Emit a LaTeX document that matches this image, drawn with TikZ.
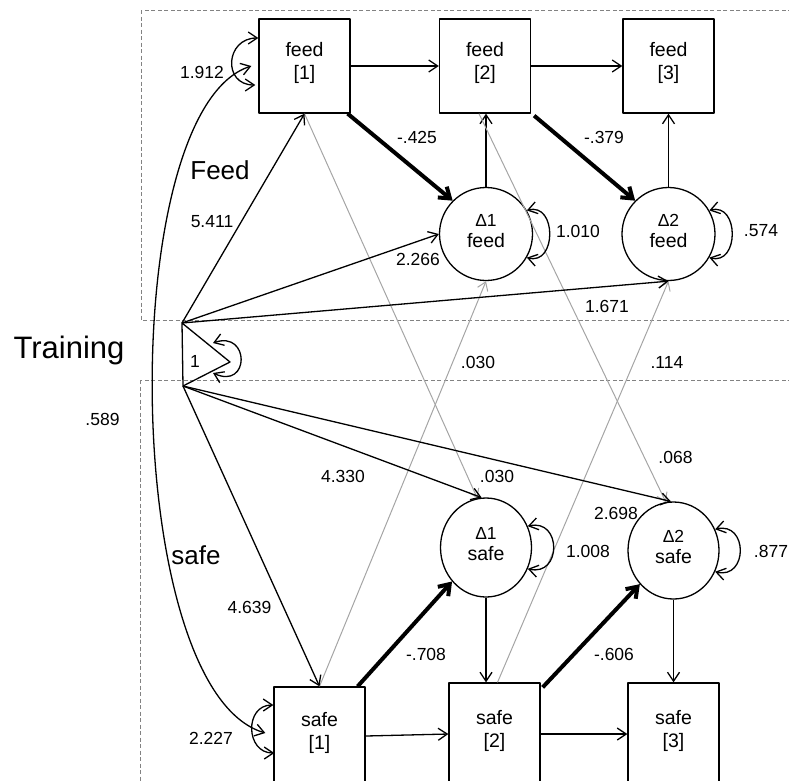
\documentclass[tikz,border=0pt]{standalone}
\usepackage{fontspec}
\setmainfont{Liberation Sans}
\usetikzlibrary{arrows.meta,shapes.geometric,calc}
\definecolor{grayline}{RGB}{165,165,165}
\definecolor{dashgray}{RGB}{130,130,130}
\begin{document}
\begin{tikzpicture}[x=1pt,y=-1pt,line width=1.3pt,line join=round,
  box/.style={draw,minimum width=91pt,minimum height=94pt,inner sep=0pt,align=center,text depth=11pt,font=\fontsize{19.5}{23}\selectfont},
  latf/.style={draw,circle,minimum size=93pt,inner sep=0pt,align=center,text depth=6pt,font=\fontsize{19.5}{21}\selectfont},
  lats/.style={draw,ellipse,minimum width=91pt,inner sep=0pt,align=center,text depth=8pt,font=\fontsize{19.5}{21}\selectfont},
  lab/.style={inner sep=0pt,font=\fontsize{17.5}{20}\selectfont},
  biglab/.style={inner sep=0pt,font=\fontsize{26}{30}\selectfont},
  reg/.style={-{Straight Barb[length=9pt,width=12pt]}},
  thk/.style={line width=4pt,-{Straight Barb[length=10pt,width=14pt]}},
  cross/.style={draw=grayline,line width=1pt,-{Straight Barb[length=8pt,width=11pt]}},
  dbl/.style={{Straight Barb[length=9pt,width=12pt]}-{Straight Barb[length=9pt,width=12pt]}},
  region/.style={draw=dashgray,line width=1pt,dash pattern=on 4pt off 2.5pt}
]
\useasboundingbox (0,0) rectangle (789,780);
\clip (0,0) rectangle (789,780);

% regions
\draw[region] (141,10) rectangle (800,320);
\draw[region] (140,380) rectangle (800,800);

% observed boxes
\node[box] (f1) at (304.5,66) {feed\\{[1]}};
\node[box] (f2) at (485,66) {feed\\{[2]}};
\node[box] (f3) at (668.5,66) {feed\\{[3]}};
\node[box,minimum height=98pt] (s1) at (319.5,736) {safe\\{[1]}};
\node[box,minimum height=102pt] (s2) at (494.5,734) {safe\\{[2]}};
\node[box,minimum height=102pt] (s3) at (673.5,734) {safe\\{[3]}};

% latent change scores
\node[latf] (d1f) at (486,234) {{\fontsize{17.5}{18}\selectfont Δ1}\\feed};
\node[latf] (d2f) at (668.5,234) {{\fontsize{17.5}{18}\selectfont Δ2}\\feed};
\node[lats,minimum height=99pt] (d1s) at (486,547.5) {{\fontsize{17.5}{18}\selectfont Δ1}\\safe};
\node[lats,minimum height=97pt] (d2s) at (673.5,550.5) {{\fontsize{17.5}{18}\selectfont Δ2}\\safe};

% training triangle
\coordinate (tA) at (182,323);
\coordinate (tB) at (183,386);
\coordinate (tC) at (230,362);
\draw (tA) -- (tC) -- (tB) -- cycle;
\node[inner sep=0pt,font=\fontsize{31}{34}\selectfont] (trn) at (69,350) {Training};
\node[lab] (one) at (195,361) {1};
\coordinate (tl1) at (213,343);
\coordinate (tl2) at (213,373);
\draw[dbl] (tl1) .. controls (250,330) and (250,390) .. (tl2);

% autoregressive paths
\draw[reg] (f1.east) -- (f2.west);
\draw[reg] (f2.east) -- (f3.west);
\draw[reg] (s1.east) -- (s2.west);
\draw[reg] (s2.east) -- (s3.west);

% change to next
\draw[reg] (d1f.north) -- (d1f.north |- f2.south);
\draw[reg] (d2f.north) -- (d2f.north |- f3.south);
\draw[reg] (d1s.south) -- (d1s.south |- s2.north);
\draw[reg] (d2s.south) -- (d2s.south |- s3.north);

% thick proportional effects
\draw[thk] ([xshift=-3pt]f1.south east) -- (d1f.135);
\draw[thk] ([xshift=3pt,yshift=-2pt]f2.south east) -- (d2f.135);
\draw[thk] ([xshift=-8pt]s1.north east) -- (d1s.225);
\draw[thk] ([xshift=2pt,yshift=-5pt]s2.north east) -- (d2s.225);

% cross-lagged (gray)
\draw[cross] (f1.south) -- (d1s.100);
\draw[cross] ([xshift=-6pt]f2.south) -- (d2s.99);
\draw[cross] (s1.north) -- (d1f.south);
\draw[cross] ([xshift=3pt]s2.north) -- (d2f.south);

% training effects
\draw[reg] (tA) -- (f1.south);
\draw[reg] (tA) -- (d1f.west);
\draw[reg] (tA) -- (d2f.south);
\draw[reg] (tB) -- (s1.north);
\draw[reg] (tB) -- (d1s.95);
\draw[reg] (tB) -- (d2s.93);

% variances
\coordinate (f1t) at ([yshift=28pt]f1.west);
\coordinate (f1b) at ([xshift=-3pt,yshift=-19pt]f1.west);
\draw[dbl] (f1t) .. controls +(-33,0) and +(-33,0) .. (f1b);
\coordinate (s1t) at ([yshift=31pt]s1.west);
\coordinate (s1b) at ([xshift=1pt,yshift=-17pt]s1.west);
\draw[dbl] (s1t) .. controls +(-29,0) and +(-29,0) .. (s1b);
\draw[dbl] (d1f.30) .. controls +(30,-8) and +(30,8) .. (d1f.-30);
\draw[dbl] (d2f.30) .. controls +(30,-8) and +(30,8) .. (d2f.-30);
\draw[dbl] (d1s.27) .. controls +(34,-8) and +(34,8) .. (d1s.-27);
\draw[dbl] (d2s.27) .. controls +(33,-8) and +(33,8) .. (d2s.-27);

% covariance feed[1] - safe[1]
\coordinate (f1m) at ([xshift=-7pt]f1.west);
\coordinate (s1m) at ([xshift=-8pt,yshift=3pt]s1.west);
\draw[dbl] (f1m) .. controls (115,110) and (120,690) .. (s1m);

% labels
\node[biglab] (lfeed) at (220,170) {Feed};
\node[biglab] (lsafe) at (196,555) {safe};
\node[lab] (l1) at (202,72) {1.912};
\node[lab] (l2) at (417,137) {-.425};
\node[lab] (l3) at (212,222) {5.411};
\node[lab] (l4) at (418,259) {2.266};
\node[lab] (l5) at (578,231) {1.010};
\node[lab] (l6) at (761,231) {.574};
\node[lab] (l7) at (604,137) {-.379};
\node[lab] (l8) at (607,306) {1.671};
\node[lab] (l9) at (102.5,419) {.589};
\node[lab] (l10) at (478,362) {.030};
\node[lab] (l11) at (667,362) {.114};
\node[lab] (l12) at (343,476) {4.330};
\node[lab] (l13) at (497,476) {.030};
\node[lab] (l14) at (675.5,457) {.068};
\node[lab] (l15) at (616,513) {2.698};
\node[lab] (l16) at (588,551) {1.008};
\node[lab] (l17) at (771,551) {.877};
\node[lab] (l18) at (426,654) {-.708};
\node[lab] (l19) at (614,654) {-.606};
\node[lab] (l20) at (249.5,607) {4.639};
\node[lab] (l21) at (211,738) {2.227};
\end{tikzpicture}
\end{document}
